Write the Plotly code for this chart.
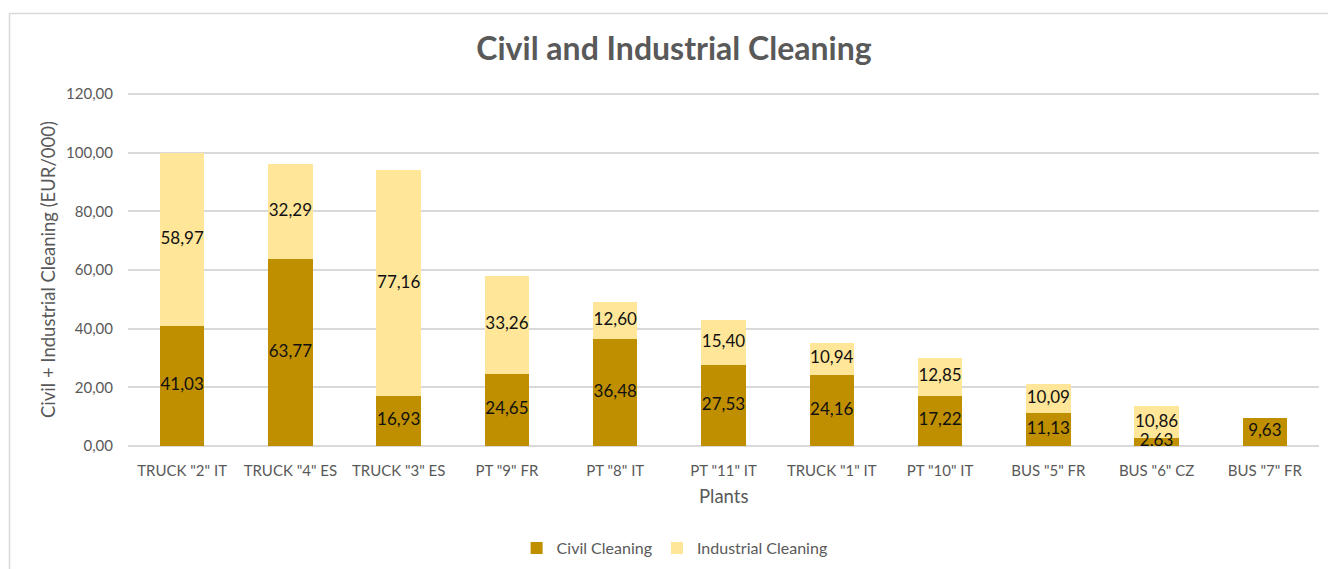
import plotly.graph_objects as go

plants = ['TRUCK "2" IT', 'TRUCK "4" ES', 'TRUCK "3" ES', 'PT "9" FR', 'PT "8" IT',
          'PT "11" IT', 'TRUCK "1" IT', 'PT "10" IT', 'BUS "5" FR', 'BUS "6" CZ', 'BUS "7" FR']
civil = [41.03, 63.77, 16.93, 24.65, 36.48, 27.53, 24.16, 17.22, 11.13, 2.63, 9.63]
industrial = [58.97, 32.29, 77.16, 33.26, 12.60, 15.40, 10.94, 12.85, 10.09, 10.86, None]

y_ticks = [0, 20, 40, 60, 80, 100, 120]

DARK = "#BF8F00"
LIGHT = "#FFE699"
GREY = "#595959"
FONT = "Lato, Calibri, sans-serif"


def fmt(v):
    return f"{v:.2f}".replace(".", ",")


fig = go.Figure()
fig.add_trace(go.Bar(x=plants, y=civil, name="Civil Cleaning", marker_color=DARK,
                     marker_line_width=0))
fig.add_trace(go.Bar(x=plants, y=[v if v is not None else 0 for v in industrial],
                     name="Industrial Cleaning", marker_color=LIGHT, marker_line_width=0))

# centered data labels (Excel style) at segment midpoints
lx, ly, lt = [], [], []
for p, c, i in zip(plants, civil, industrial):
    lx.append(p); ly.append(c / 2); lt.append(fmt(c))
    if i is not None:
        lx.append(p); ly.append(c + i / 2); lt.append(fmt(i))
fig.add_trace(go.Scatter(x=lx, y=ly, text=lt, mode="text", showlegend=False,
                         textfont=dict(family=FONT, size=17, color="#111111"),
                         hoverinfo="skip"))

W, H = 1328, 569
YMAX = 120.4
L, R, B = 128, 9, 123
T = 94 - round(352 * (YMAX - 120) / 120)
pw = W - L - R
ph = H - T - B
base_px = H - B


def py(px):
    """pixel row -> paper y"""
    return (base_px - px) / ph


def px_(x):
    return (x - L) / pw


fig.update_layout(
    width=W, height=H,
    margin=dict(l=L, r=R, t=T, b=B, autoexpand=False),
    barmode="stack",
    bargap=0.59,
    separators=",.",
    paper_bgcolor="white",
    plot_bgcolor="white",
    font=dict(family=FONT, color=GREY),
    title=dict(text="<b>Civil and Industrial Cleaning</b>", x=674 / W, xanchor="center",
               xref="container", yref="container", y=1 - 49 / H, yanchor="middle",
               font=dict(family=FONT, size=32, color=GREY)),
    legend=dict(orientation="h", x=0.508, xanchor="center", xref="container",
                yref="container", y=1 - 548 / H, yanchor="middle",
                font=dict(family=FONT, size=16, color=GREY),
                itemwidth=30, traceorder="normal"),
    xaxis=dict(range=[-0.5, len(plants) - 0.5], tickfont=dict(size=15, color=GREY),
               showline=False, ticks="", showgrid=False, automargin=False,
               ticklabelstandoff=14),
    yaxis=dict(range=[0, YMAX], tickvals=y_ticks, tickformat=".2f",
               tickfont=dict(size=15, color=GREY),
               showgrid=True, gridcolor="#D9D9D9", gridwidth=1.5,
               zeroline=True, zerolinecolor="#D9D9D9", zerolinewidth=1.5,
               showline=False, ticks="", automargin=False, ticklabelstandoff=14),
    annotations=[
        dict(text="Civil + Industrial Cleaning (EUR/000)", xref="paper", yref="paper",
             x=px_(48), y=0.5 * (py(94) + py(446)), textangle=-90, showarrow=False,
             xanchor="center", yanchor="middle",
             font=dict(family=FONT, size=18.5, color=GREY)),
        dict(text="Plants", xref="paper", yref="paper", x=0.5, y=py(496),
             showarrow=False, xanchor="center", yanchor="middle",
             font=dict(family=FONT, size=18.5, color=GREY)),
    ],
    shapes=[dict(type="rect", xref="paper", yref="paper",
                 x0=px_(9.5), x1=px_(W + 10),
                 y0=py(H + 10), y1=py(13.5),
                 line=dict(color="#D9D9D9", width=1.5), fillcolor="rgba(0,0,0,0)",
                 layer="below")],
)

fig.write_html("out.html")
